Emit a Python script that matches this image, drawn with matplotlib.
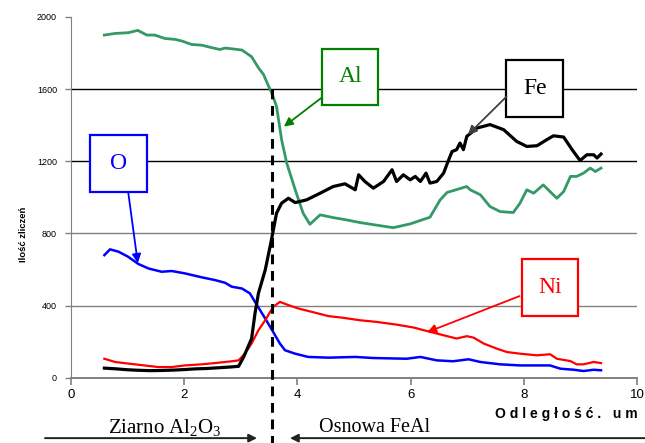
import matplotlib
matplotlib.use("Agg")
import matplotlib.pyplot as plt
from matplotlib.patches import Rectangle

plt.rcParams["font.family"] = ["Liberation Sans", "DejaVu Sans"]
plt.rcParams["mathtext.fontset"] = "custom"
plt.rcParams["mathtext.rm"] = "Liberation Serif"
plt.rcParams["mathtext.it"] = "Liberation Serif:italic"

# --- data (distance in um, counts) ---
al_x = [0.59, 0.78, 1.01, 1.18, 1.34, 1.48, 1.66, 1.84, 1.96, 2.13, 2.31, 2.49, 2.63, 2.72,
        2.84, 3.02, 3.19, 3.31, 3.40, 3.49, 3.55, 3.63, 3.72, 3.81, 3.96, 4.10, 4.22, 4.40,
        4.63, 4.87, 5.11, 5.46, 5.69, 5.99, 6.34, 6.52, 6.64, 6.99, 7.05, 7.23, 7.40, 7.58,
        7.81, 7.93, 8.05, 8.17, 8.34, 8.46, 8.58, 8.70, 8.82, 8.93, 9.05, 9.17, 9.26, 9.36]
al_y = [1899, 1908, 1912, 1925, 1899, 1899, 1880, 1875, 1866, 1847, 1843, 1829, 1819, 1827,
        1823, 1816, 1779, 1718, 1681, 1616, 1575, 1504, 1319, 1190, 1042, 912, 851, 903,
        888, 875, 860, 843, 832, 853, 890, 986, 1027, 1060, 1042, 1014, 949, 921,
        916, 968, 1042, 1023, 1069, 1032, 995, 1032, 1116, 1116, 1134, 1162, 1143, 1162]

fe_x = [0.59, 0.8, 1.0, 1.2, 1.4, 1.6, 1.8, 2.0, 2.2, 2.4, 2.6, 2.8, 2.96, 3.05, 3.19, 3.25,
        3.31, 3.43, 3.54, 3.63, 3.72, 3.84, 3.96, 4.16, 4.40, 4.63, 4.84, 5.02, 5.08, 5.19,
        5.34, 5.52, 5.67, 5.75, 5.87, 5.99, 6.08, 6.17, 6.27, 6.34, 6.46, 6.58, 6.66, 6.73,
        6.81, 6.87, 6.93, 6.99, 7.17, 7.40, 7.64, 7.87, 8.05, 8.23, 8.40, 8.52, 8.70, 8.85,
        8.99, 9.11, 9.23, 9.29, 9.36]
fe_y = [54, 50, 45, 42, 40, 41, 43, 46, 50, 52, 56, 60, 64, 116, 218, 357,
        468, 597, 764, 912, 968, 995, 971, 986, 1023, 1060, 1075, 1042, 1125, 1088,
        1051, 1088, 1153, 1088, 1125, 1097, 1116, 1088, 1134, 1079, 1088, 1134, 1200, 1254,
        1264, 1301, 1264, 1338, 1384, 1403, 1375, 1310, 1282, 1286, 1319, 1341, 1334, 1264,
        1204, 1236, 1236, 1218, 1240]

o_x = [0.59, 0.69, 0.84, 1.01, 1.19, 1.37, 1.60, 1.78, 2.01, 2.31, 2.54, 2.72, 2.84, 3.02,
       3.16, 3.25, 3.43, 3.57, 3.69, 3.78, 3.96, 4.19, 4.55, 5.02, 5.34, 5.93, 6.17, 6.46,
       6.75, 7.02, 7.23, 7.58, 7.93, 8.46, 8.64, 8.88, 9.05, 9.23, 9.36]
o_y = [680, 712, 699, 671, 631, 606, 588, 592, 579, 557, 542, 527, 505, 495,
       468, 421, 329, 255, 190, 153, 134, 116, 112, 116, 110, 106, 116, 97,
       92, 103, 88, 75, 69, 69, 51, 45, 38, 45, 42]

ni_x = [0.59, 0.78, 1.13, 1.54, 1.78, 2.01, 2.31, 2.54, 2.84, 2.96, 3.07, 3.19, 3.31, 3.43,
        3.57, 3.69, 3.84, 4.02, 4.25, 4.55, 4.78, 5.11, 5.40, 5.75, 6.05, 6.28, 6.58, 6.81,
        6.99, 7.11, 7.29, 7.52, 7.70, 7.93, 8.23, 8.46, 8.58, 8.82, 8.93, 9.05, 9.23, 9.36]
ni_y = [106, 88, 75, 60, 60, 69, 75, 82, 92, 97, 134, 190, 264, 319,
        393, 421, 403, 384, 366, 342, 334, 319, 310, 295, 279, 260, 236, 218,
        231, 223, 190, 162, 143, 134, 125, 131, 106, 93, 75, 75, 88, 82]

x_ticks = [0, 2, 4, 6, 8, 10]
y_ticks = [0, 400, 800, 1200, 1600, 2000]
boundary_x = 3.55

# label boxes: (text, colour, box centre x, box centre y, arrow target x, arrow target y, arrow start x, arrow start y)
labels = [
    ("O", "#0000ff", 0.84, 1186, 1.18, 636, 1.01, 1031),
    ("Al", "#008000", 4.93, 1667, 3.76, 1392, 4.43, 1553),
    ("Fe", "#000000", 8.19, 1603, 7.01, 1347, 7.69, 1558),
    ("Ni", "#ff0000", 8.46, 503, 6.29, 253, 7.92, 453),
]
arrow_colors = {"O": "#0000ff", "Al": "#008000", "Fe": "#404040", "Ni": "#ff0000"}

fig = plt.figure(figsize=(6.45, 4.43), dpi=100)
ax = fig.add_axes([0.110, 0.147, 0.878, 0.815])
ax.set_xlim(0, 10)
ax.set_ylim(0, 2000)

for yv in y_ticks[1:-1]:
    ax.axhline(yv, color="black" if yv >= 1200 else "#808080", lw=1.0, zorder=1)

ax.plot(al_x, al_y, color="#339966", lw=2.0, zorder=3)
ax.plot(o_x, o_y, color="#0000ff", lw=1.8, zorder=3)
ax.plot(ni_x, ni_y, color="#ff0000", lw=1.6, zorder=3)
ax.plot(fe_x, fe_y, color="black", lw=2.3, zorder=4)

# grain boundary
ax.plot([boundary_x, boundary_x], [1600, -370], color="black", lw=2.2,
        ls=(0, (3.2, 2.2)), clip_on=False, zorder=5)

# box width / height in data units (about 57 px)
bw, bh = 1.0, 315
for text, col, cx, cy, tx, ty, sx, sy in labels:
    ax.add_patch(Rectangle((cx - bw / 2, cy - bh / 2), bw, bh, facecolor="white",
                           edgecolor=col, lw=1.6, zorder=6))
    ax.text(cx, cy, text, color=col, ha="center", va="center", fontsize=17,
            family="Liberation Serif", zorder=7)
    ax.annotate("", xy=(tx, ty), xytext=(sx, sy), zorder=6,
                arrowprops=dict(arrowstyle="-|>", color=arrow_colors[text], lw=1.3,
                                mutation_scale=13, shrinkA=0, shrinkB=0))

for side in ["top", "right"]:
    ax.spines[side].set_visible(False)
ax.spines["left"].set_color("#808080")
ax.spines["bottom"].set_color("#808080")
ax.spines["bottom"].set_linewidth(1.4)

ax.set_xticks(x_ticks)
ax.set_yticks(y_ticks)
ax.tick_params(axis="x", labelsize=9.5, length=5, color="#808080", width=1.2, pad=3)
ax.tick_params(axis="y", labelsize=6.5, length=4, color="#808080", width=1.0, pad=6)

fig.text(0.988, 0.066, "O d l e g ł o ś ć .   u m", ha="right", va="center",
         fontsize=10, fontweight="bold")
fig.text(0.036, 0.47, "Ilość zliczeń", rotation=90, ha="center", va="center",
         fontsize=6.8, fontweight="bold")

fig.text(0.256, 0.034, r"Ziarno Al$_\mathrm{2}$O$_\mathrm{3}$", ha="center", va="center",
         fontsize=15, family="Liberation Serif")
fig.text(0.580, 0.034, "Osnowa FeAl", ha="center", va="center",
         fontsize=14.5, family="Liberation Serif")
ax.annotate("", xy=(257 / 645, 0.011), xytext=(45 / 645, 0.011), xycoords="figure fraction",
            textcoords="figure fraction",
            arrowprops=dict(arrowstyle="-|>", color="#222222", lw=1.4, mutation_scale=12,
                            shrinkA=0, shrinkB=0))
ax.annotate("", xy=(290 / 645, 0.011), xytext=(1.0, 0.011), xycoords="figure fraction",
            textcoords="figure fraction",
            arrowprops=dict(arrowstyle="-|>", color="#222222", lw=1.4, mutation_scale=12,
                            shrinkA=0, shrinkB=0))

fig.savefig("out.png", dpi=100)
